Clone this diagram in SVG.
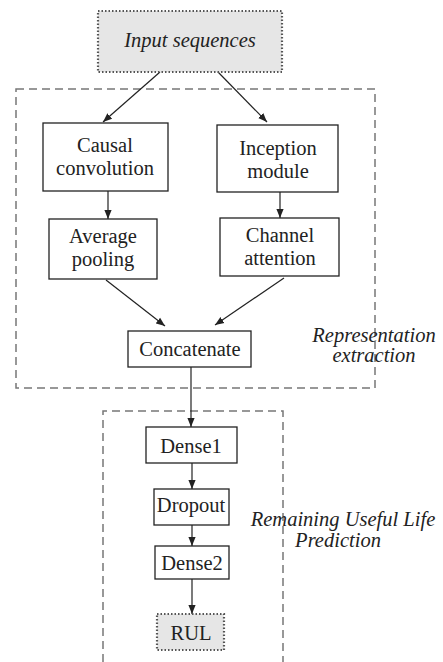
<svg xmlns="http://www.w3.org/2000/svg" width="443" height="662" viewBox="0 0 443 662">
<style>
.n{fill:#fff;stroke:#222;stroke-width:1.3}
.s{fill:#e6e6e6;stroke:#555;stroke-width:2.2;stroke-dasharray:1.5 2}
.g{fill:none;stroke:#777;stroke-width:1.5;stroke-dasharray:8 5}
text{font-family:"Liberation Serif","Times New Roman",serif;font-size:20.5px;fill:#222;text-anchor:middle}
.i{font-style:italic}
.c{stroke:#222;stroke-width:1.2;fill:none;marker-end:url(#a)}
</style>
<defs>
<marker id="a" viewBox="0 0 10 10" refX="10" refY="5" markerWidth="9" markerHeight="9" markerUnits="userSpaceOnUse" orient="auto">
<path d="M0,1 L10,5 L0,9 z" fill="#222"/>
</marker>
</defs>
<g id="groups">
<rect class="g" x="16" y="89" width="359" height="299"/>
<path class="g" d="M103,662 V411 H283 V662"/>
<text class="i" x="374" y="342">Representation</text>
<text class="i" x="374" y="362">extraction</text>
<text class="i" x="343" y="526">Remaining Useful Life</text>
<text class="i" x="338" y="547">Prediction</text>
</g>
<g id="connectors">
<line class="c" x1="160" y1="72" x2="103" y2="122"/>
<line class="c" x1="218" y1="72" x2="267" y2="122"/>
<line class="c" x1="108" y1="191" x2="108" y2="219"/>
<line class="c" x1="280" y1="192" x2="280" y2="218"/>
<line class="c" x1="106" y1="280" x2="165" y2="326"/>
<line class="c" x1="284" y1="278" x2="215" y2="325"/>
<line class="c" x1="191" y1="367" x2="191" y2="427"/>
<line class="c" x1="192" y1="463" x2="192" y2="489"/>
<line class="c" x1="192" y1="525" x2="192" y2="546"/>
<line class="c" x1="192" y1="579" x2="192" y2="614"/>
</g>
<g id="input"><rect class="s" x="98" y="11" width="184" height="61"/><text class="i" x="190" y="47">Input sequences</text></g>
<g id="causal"><rect class="n" x="43" y="123" width="125" height="68"/><text x="105" y="152">Causal</text><text x="105" y="175">convolution</text></g>
<g id="inception"><rect class="n" x="217" y="125" width="121" height="67"/><text x="278" y="155">Inception</text><text x="278" y="178">module</text></g>
<g id="avgpool"><rect class="n" x="49" y="219" width="108" height="60"/><text x="103" y="243">Average</text><text x="103" y="266">pooling</text></g>
<g id="attention"><rect class="n" x="220" y="218" width="119" height="58"/><text x="280" y="242">Channel</text><text x="280" y="265">attention</text></g>
<g id="concat"><rect class="n" x="128" y="331" width="123" height="36"/><text x="190" y="356">Concatenate</text></g>
<g id="dense1"><rect class="n" x="146" y="427" width="91" height="36"/><text x="191" y="453">Dense1</text></g>
<g id="dropout"><rect class="n" x="154" y="489" width="75" height="36"/><text x="191" y="512">Dropout</text></g>
<g id="dense2"><rect class="n" x="155" y="546" width="74" height="33"/><text x="192" y="570">Dense2</text></g>
<g id="rul"><rect class="s" x="157" y="614" width="67" height="36"/><text x="191" y="640">RUL</text></g>
</svg>
